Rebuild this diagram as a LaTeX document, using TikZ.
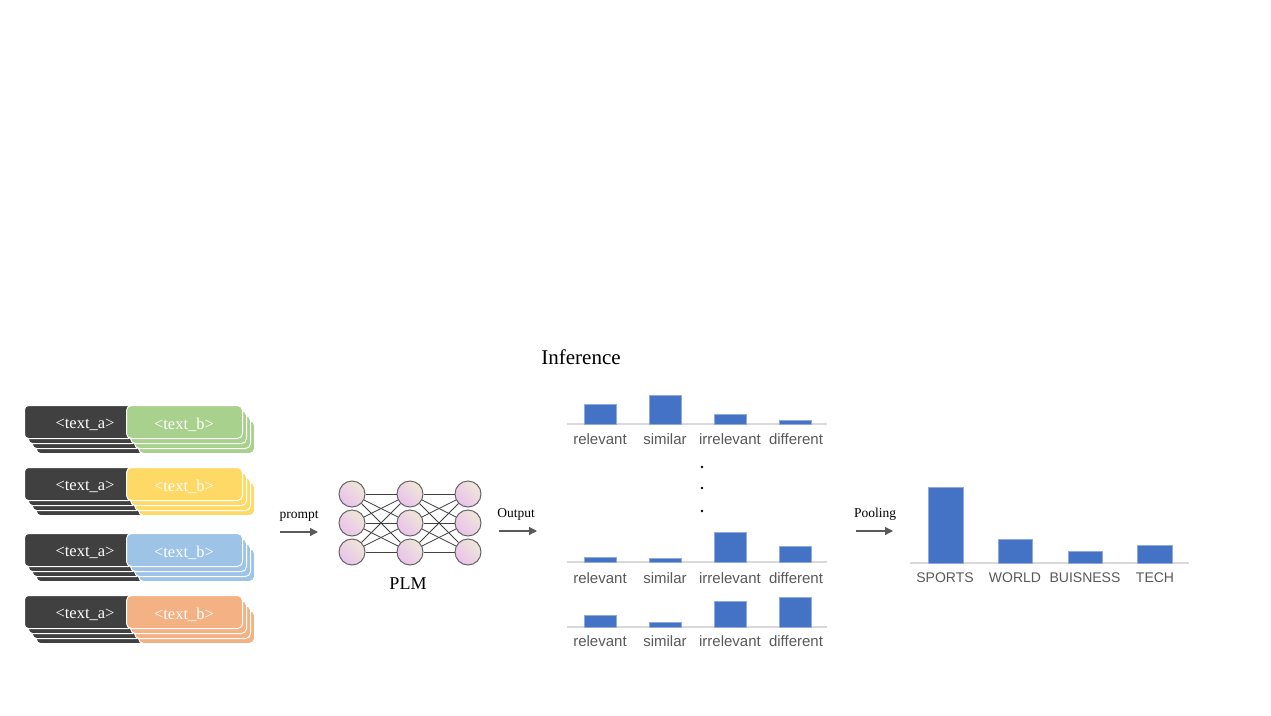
\documentclass[tikz,border=0pt]{standalone}
\usepackage{fontspec}
\setmainfont{Liberation Serif}
\newfontfamily\lsans{Liberation Sans}
\usetikzlibrary{arrows.meta}
\definecolor{darkbox}{HTML}{404040}
\definecolor{cgreen}{HTML}{A9D18E}
\definecolor{cyellow}{HTML}{FFD966}
\definecolor{cblue}{HTML}{9DC3E6}
\definecolor{corange}{HTML}{F4B183}
\definecolor{barblue}{HTML}{4472C4}
\definecolor{barline}{HTML}{8FAADC}
\definecolor{axisgray}{HTML}{D9D9D9}
\definecolor{labgray}{HTML}{595959}
\definecolor{npink}{HTML}{E9C2EC}
\definecolor{nbeige}{HTML}{EFE6D8}
\definecolor{arrgray}{HTML}{595959}
\begin{document}
\begin{tikzpicture}[x=1pt,y=-1pt,
  abox/.style={anchor=north west,minimum width=108,minimum height=33,inner sep=0,rounded corners=4,fill=darkbox,draw=white,line width=1},
  bbox/.style={anchor=north west,minimum width=116,minimum height=33,inner sep=0,rounded corners=5,draw=white,line width=1},
  boxtext/.style={text=white,font=\fontsize{16.5}{19}\selectfont,inner sep=0},
  neuron/.style={circle,minimum size=26,inner sep=0,draw=gray!80!black,line width=1,left color=npink,right color=nbeige,shading angle=135},
  conn/.style={draw=darkbox,line width=0.8},
  arr/.style={draw=arrgray,line width=1.2,-{Triangle[length=8,width=8]}},
  lab/.style={font=\fontsize{13.5}{16}\selectfont,inner sep=0},
  clab/.style={font=\lsans\fontsize{15}{18}\selectfont,text=labgray,inner sep=0},
  caplab/.style={font=\lsans\fontsize{14}{17}\selectfont,text=labgray,inner sep=0},
  bar/.style={fill=barblue,draw=barline,line width=0.6},
  axis/.style={draw=axisgray,line width=1.2}]
\useasboundingbox (0,0) rectangle (1271,715);
\fill[white] (0,0) rectangle (1271,715);

% input stacks
\foreach \s/\y/\c in {1/405/cgreen,2/467/cyellow,3/533/cblue,4/595/corange}{
  \foreach \i in {3,2,1,0}{
    \node[abox] (a\s-\i) at ({24+4*\i},{\y+5*\i}) {};
    \node[bbox,fill=\c] (b\s-\i) at ({126+4*\i},{\y+5*\i}) {};
  }
  \node[boxtext] (ta\s) at (85,{\y+20}) {<text\_a>};
  \node[boxtext] (tb\s) at (184,{\y+20}) {<text\_b>};
}

% prompt arrow
\node[lab] (prompt) at (299,516) {prompt};
\coordinate (pr1) at (280,532);
\coordinate (pr2) at (318,532);
\draw[arr] (pr1) -- (pr2);

% network
\foreach \c/\x in {1/352,2/410,3/468}{
  \foreach \r/\yy in {1/494,2/523,3/552}{
    \node[neuron] (n\c\r) at (\x,\yy) {};
  }
}
\foreach \i in {1,2,3}{
  \foreach \j in {1,2,3}{
    \draw[conn] (n1\i) -- (n2\j);
    \draw[conn] (n2\i) -- (n3\j);
  }
}
\node[font=\fontsize{18}{21}\selectfont,inner sep=0] (plm) at (408,584) {PLM};

% output arrow
\node[lab] (output) at (516,514) {Output};
\coordinate (o1) at (499,531);
\coordinate (o2) at (537,531);
\draw[arr] (o1) -- (o2);

\node[font=\fontsize{21}{24}\selectfont,inner sep=0] (inf) at (581,357) {Inference};

% small charts
\foreach \k/\base/\ta/\tb/\tc/\td/\ly in {1/424/404/395/414/420/439, 2/562/557/558/532/546/578, 3/627/615/622/601/597/641}{
  \coordinate (ax\k l) at (567,\base);
  \coordinate (ax\k r) at (827,\base);
  \draw[axis] (ax\k l) -- (ax\k r);
  \draw[bar] (584,\base) rectangle (616,\ta);
  \draw[bar] (649,\base) rectangle (681,\tb);
  \draw[bar] (714,\base) rectangle (746,\tc);
  \draw[bar] (779,\base) rectangle (811,\td);
  \node[clab] (l\k a) at (600,\ly) {relevant};
  \node[clab] (l\k b) at (665,\ly) {similar};
  \node[clab] (l\k c) at (730,\ly) {irrelevant};
  \node[clab] (l\k d) at (796,\ly) {different};
}
\foreach \yy/\n in {467/1,488/2,511/3}{
  \fill (702,\yy) circle (1.3);
}

% pooling arrow
\node[lab] (pool) at (875,514) {Pooling};
\coordinate (q1) at (856,531);
\coordinate (q2) at (893,531);
\draw[arr] (q1) -- (q2);

% final chart
\coordinate (fl) at (910,563);
\coordinate (fr) at (1189,563);
\draw[axis] (fl) -- (fr);
\draw[bar] (928,563) rectangle (963,487);
\draw[bar] (998,563) rectangle (1032,539);
\draw[bar] (1068,563) rectangle (1102,551);
\draw[bar] (1137,563) rectangle (1172,545);
\node[caplab] (fsp) at (945,578) {SPORTS};
\node[caplab] (fwo) at (1015,578) {WORLD};
\node[caplab] (fbu) at (1085,578) {BUISNESS};
\node[caplab] (fte) at (1155,578) {TECH};
\end{tikzpicture}
\end{document}
